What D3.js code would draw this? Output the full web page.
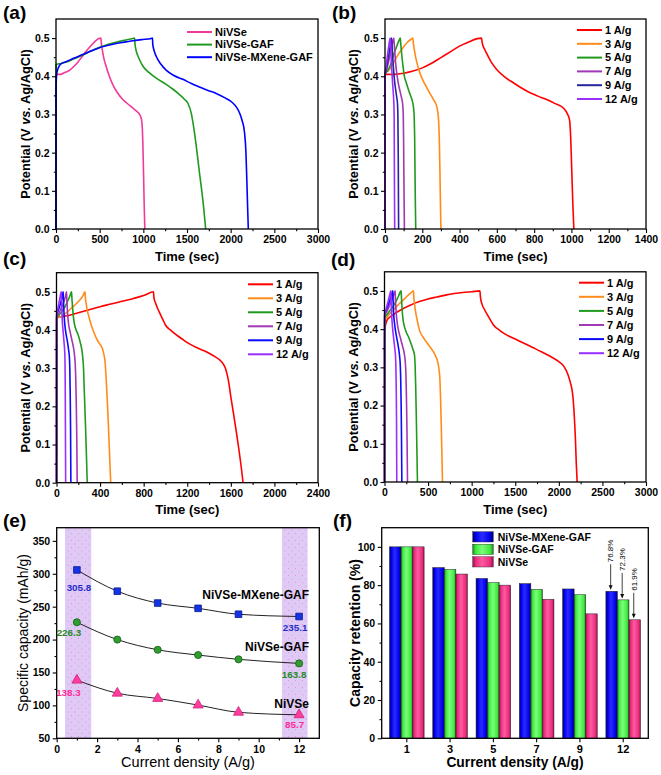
<!DOCTYPE html>
<html><head><meta charset="utf-8">
<script src="https://cdn.jsdelivr.net/npm/d3@7"></script>
<style>body{margin:0;background:#fff}svg{display:block;font-family:"Liberation Sans",Arial,Helvetica,sans-serif}</style>
</head><body><svg id="c" width="661" height="775"></svg>
<script>
// ---------------- DATA ----------------
// (a) GCD at 1 A/g, three electrodes  [time (s), potential (V)]
const gcdA_NiVSe = [[0,0],[1,0.405],[50,0.405],[100,0.41],[150,0.415],[200,0.425],[250,0.437],[300,0.452],[350,0.467],[400,0.48],[450,0.492],[490,0.499],[515,0.5],[518,0.49],[530,0.47],[550,0.445],[575,0.425],[600,0.407],[650,0.378],[700,0.358],[765,0.339],[820,0.328],[879,0.317],[930,0.307],[960,0.299],[978,0.288],[988,0.265],[995,0.22],[1003,0.14],[1010,0.06],[1017,0]];
const gcdA_GAF = [[0,0],[1,0.43],[20,0.432],[50,0.433],[100,0.436],[200,0.445],[300,0.455],[400,0.466],[500,0.476],[600,0.484],[700,0.49],[800,0.495],[880,0.499],[900,0.5],[903,0.488],[915,0.47],[935,0.455],[955,0.444],[1000,0.425],[1070,0.409],[1160,0.393],[1261,0.379],[1340,0.366],[1414,0.352],[1470,0.34],[1509,0.33],[1548,0.304],[1586,0.252],[1643,0.147],[1689,0.06],[1714,0]];
const gcdA_MX = [[0,0],[1,0.37],[8,0.405],[20,0.418],[40,0.428],[60,0.433],[115,0.438],[200,0.447],[306,0.457],[400,0.466],[497,0.475],[600,0.481],[688,0.486],[800,0.49],[879,0.493],[980,0.496],[1090,0.499],[1105,0.5],[1108,0.484],[1120,0.47],[1146,0.453],[1200,0.432],[1261,0.416],[1350,0.402],[1452,0.392],[1550,0.381],[1643,0.372],[1740,0.363],[1834,0.355],[1930,0.344],[2025,0.33],[2070,0.318],[2102,0.304],[2130,0.285],[2159,0.252],[2175,0.2],[2186,0.121],[2195,0.05],[2202,0]];

// (b) NiVSe at different current densities
const gcdB_1 = [[0,0],[1,0.405],[50,0.405],[100,0.408],[150,0.414],[200,0.422],[250,0.434],[300,0.449],[350,0.464],[400,0.479],[450,0.49],[490,0.498],[518,0.5],[521,0.488],[535,0.47],[545,0.46],[570,0.437],[599,0.418],[640,0.399],[688,0.383],[730,0.37],[778,0.357],[820,0.348],[867,0.339],[910,0.329],[957,0.317],[978,0.302],[990,0.285],[996,0.24],[1002,0.15],[1008,0.06],[1013,0]];
const gcdB_3 = [[0,0],[1,0.41],[20,0.415],[40,0.43],[60,0.448],[80,0.464],[100,0.477],[120,0.489],[140,0.497],[150,0.5],[152,0.488],[158,0.468],[165,0.449],[177,0.425],[190,0.405],[205,0.388],[220,0.374],[240,0.356],[260,0.339],[275,0.325],[282,0.31],[288,0.28],[292,0.22],[295,0.14],[298,0.05],[300,0]];
const gcdB_5 = [[0,0],[1,0.405],[15,0.415],[30,0.43],[45,0.455],[60,0.475],[72,0.49],[82,0.5],[84,0.488],[90,0.455],[97,0.425],[104,0.4],[115,0.382],[125,0.366],[135,0.352],[145,0.338],[152,0.322],[156,0.3],[159,0.24],[161,0.15],[163,0.06],[165,0]];
const gcdB_7 = [[0,0],[1,0.405],[10,0.42],[20,0.44],[30,0.465],[40,0.488],[47,0.5],[49,0.488],[53,0.46],[58,0.43],[64,0.405],[72,0.38],[80,0.362],[88,0.345],[94,0.33],[98,0.3],[100,0.22],[102,0.1],[104,0]];
const gcdB_9 = [[0,0],[1,0.405],[8,0.42],[16,0.445],[24,0.468],[31,0.49],[35,0.5],[37,0.488],[40,0.46],[44,0.43],[48,0.405],[53,0.38],[58,0.362],[63,0.345],[67,0.328],[69,0.3],[71,0.2],[72,0.1],[73,0]];
const gcdB_12 = [[0,0],[1,0.41],[6,0.425],[12,0.45],[18,0.472],[24,0.492],[28,0.5],[30,0.488],[32,0.46],[35,0.43],[38,0.405],[41,0.38],[44,0.36],[47,0.335],[49,0.3],[50,0.2],[51,0.08],[52,0]];

// (c) NiVSe-GAF
const gcdC_1 = [[0,0],[1,0.432],[100,0.437],[200,0.445],[300,0.453],[400,0.461],[500,0.468],[600,0.475],[700,0.482],[800,0.49],[890,0.5],[894,0.485],[910,0.47],[930,0.455],[950,0.443],[975,0.428],[1000,0.413],[1050,0.399],[1100,0.387],[1150,0.377],[1200,0.367],[1250,0.359],[1300,0.352],[1350,0.346],[1400,0.339],[1450,0.331],[1500,0.321],[1530,0.311],[1550,0.3],[1565,0.285],[1580,0.264],[1600,0.225],[1625,0.18],[1650,0.134],[1675,0.085],[1700,0.03],[1712,0]];
const gcdC_3 = [[0,0],[1,0.43],[40,0.435],[80,0.443],[120,0.453],[160,0.463],[200,0.474],[240,0.488],[262,0.5],[265,0.485],[272,0.47],[280,0.455],[300,0.432],[320,0.412],[340,0.396],[360,0.382],[390,0.366],[420,0.352],[436,0.335],[444,0.321],[454,0.282],[465,0.22],[475,0.16],[485,0.09],[493,0.03],[498,0]];
const gcdC_5 = [[0,0],[1,0.432],[20,0.438],[40,0.445],[60,0.453],[80,0.462],[100,0.474],[120,0.487],[138,0.5],[141,0.485],[147,0.46],[155,0.435],[165,0.415],[180,0.4],[199,0.387],[220,0.365],[239,0.334],[248,0.3],[255,0.24],[265,0.16],[274,0.08],[282,0]];
const gcdC_7 = [[0,0],[1,0.435],[20,0.443],[40,0.455],[60,0.468],[80,0.485],[92,0.5],[94,0.485],[98,0.46],[104,0.435],[112,0.413],[125,0.395],[140,0.375],[155,0.355],[165,0.335],[172,0.31],[177,0.27],[182,0.2],[186,0.12],[190,0]];
const gcdC_9 = [[0,0],[1,0.44],[15,0.45],[30,0.463],[45,0.478],[55,0.492],[61,0.5],[63,0.485],[67,0.455],[73,0.425],[80,0.405],[90,0.385],[100,0.37],[110,0.35],[118,0.33],[122,0.3],[126,0.23],[129,0.14],[132,0]];
const gcdC_12 = [[0,0],[1,0.44],[10,0.452],[20,0.467],[30,0.482],[40,0.496],[44,0.5],[46,0.485],[49,0.455],[53,0.425],[58,0.405],[64,0.385],[70,0.365],[75,0.345],[78,0.32],[80,0.26],[82,0.14],[84,0]];

// (d) NiVSe-MXene-GAF
const gcdD_1 = [[0,0],[1,0.38],[8,0.405],[20,0.418],[40,0.427],[70,0.433],[100,0.438],[200,0.452],[300,0.463],[400,0.472],[500,0.479],[600,0.484],[700,0.489],[800,0.493],[900,0.496],[1000,0.498],[1095,0.5],[1100,0.485],[1115,0.468],[1150,0.45],[1200,0.43],[1250,0.411],[1320,0.397],[1400,0.385],[1500,0.374],[1600,0.363],[1700,0.352],[1800,0.341],[1900,0.329],[2000,0.315],[2060,0.302],[2100,0.284],[2130,0.262],[2160,0.227],[2178,0.17],[2190,0.114],[2200,0.05],[2210,0]];
const gcdD_3 = [[0,0],[1,0.42],[30,0.432],[60,0.44],[100,0.45],[150,0.462],[200,0.473],[250,0.484],[300,0.494],[333,0.5],[336,0.485],[345,0.465],[360,0.441],[380,0.418],[400,0.398],[440,0.38],[480,0.367],[520,0.354],[560,0.341],[590,0.328],[610,0.315],[625,0.295],[635,0.271],[643,0.22],[650,0.157],[658,0.08],[665,0]];
const gcdD_5 = [[0,0],[1,0.43],[30,0.438],[60,0.448],[100,0.46],[130,0.472],[160,0.486],[191,0.5],[194,0.485],[200,0.46],[210,0.43],[225,0.41],[250,0.392],[275,0.38],[300,0.365],[325,0.348],[344,0.332],[352,0.3],[358,0.25],[365,0.17],[372,0.08],[378,0]];
const gcdD_7 = [[0,0],[1,0.435],[20,0.443],[40,0.452],[60,0.463],[80,0.474],[100,0.487],[122,0.5],[124,0.485],[130,0.458],[138,0.432],[150,0.41],[165,0.392],[185,0.375],[205,0.357],[225,0.338],[238,0.315],[246,0.28],[252,0.22],[258,0.13],[264,0]];
const gcdD_9 = [[0,0],[1,0.44],[20,0.45],[40,0.462],[60,0.475],[80,0.489],[95,0.5],[97,0.485],[102,0.455],[108,0.43],[118,0.41],[130,0.39],[145,0.372],[160,0.352],[172,0.332],[180,0.31],[186,0.27],[191,0.2],[195,0.12],[199,0]];
const gcdD_12 = [[0,0],[1,0.44],[15,0.45],[30,0.463],[45,0.476],[60,0.49],[73,0.5],[75,0.485],[79,0.455],[84,0.43],[90,0.41],[98,0.39],[108,0.37],[118,0.35],[126,0.33],[131,0.3],[135,0.24],[138,0.16],[141,0]];

// (e) specific capacity vs current density
const currents = [1, 3, 5, 7, 9, 12];
const capMXene = [305.8, 273.5, 255.5, 247.5, 238.5, 235.1];
const capGAF = [226.3, 200, 184.5, 176.5, 170, 163.8];
const capNiVSe = [138.3, 118.5, 110.5, 100.5, 89.5, 85.7];
const shadeRanges = [[0.41, 1.71], [11.15, 12.42]];

// (f) capacity retention (%)
const retMXene = [100, 89.2, 83.5, 80.8, 78, 76.8];
const retGAF = [100, 88.2, 81.3, 77.8, 75, 72.3];
const retNiVSe = [100, 85.8, 80, 72.6, 65, 61.9];

const rateLabels = ["1 A/g", "3 A/g", "5 A/g", "7 A/g", "9 A/g", "12 A/g"];
const materialNames = ["NiVSe", "NiVSe-GAF", "NiVSe-MXene-GAF"];

// ---------------- DRAWING ----------------
const svg = d3.select('#c');
svg.append('rect').attr('width', 661).attr('height', 775).attr('fill', '#fff');
const defs = svg.append('defs');

function styleTicks(sel, size, weight) {
  sel.select('.domain').remove();
  sel.selectAll('line').attr('stroke', '#000').attr('stroke-width', 1.1);
  sel.selectAll('text').attr('font-size', size).attr('font-weight', weight)
     .attr('fill', '#000').attr('font-family', '"Liberation Sans",Arial,sans-serif');
}

function drawAxes(g, x, y, box, xMaj, xMin, yMaj, yMin, xFmt, yFmt, w) {
  const [x0, x1, yb, yt] = box;
  const gx = g.append('g').attr('transform', `translate(0,${yb})`)
    .call(d3.axisBottom(x).tickValues(xMaj).tickSize(4).tickSizeOuter(0).tickPadding(3).tickFormat(xFmt));
  styleTicks(gx, 10.5, w);
  if (xMin.length) {
    const gxm = g.append('g').attr('transform', `translate(0,${yb})`)
      .call(d3.axisBottom(x).tickValues(xMin).tickSize(2.2).tickSizeOuter(0).tickFormat(''));
    styleTicks(gxm, 10, w);
  }
  const gy = g.append('g').attr('transform', `translate(${x0},0)`)
    .call(d3.axisLeft(y).tickValues(yMaj).tickSize(4).tickSizeOuter(0).tickPadding(2.5).tickFormat(yFmt));
  styleTicks(gy, 10.5, w);
  const gym = g.append('g').attr('transform', `translate(${x0},0)`)
    .call(d3.axisLeft(y).tickValues(yMin).tickSize(2.2).tickSizeOuter(0).tickFormat(''));
  styleTicks(gym, 10, w);
  g.append('rect').attr('x', x0).attr('y', yt).attr('width', x1 - x0).attr('height', yb - yt)
    .attr('fill', 'none').attr('stroke', '#000').attr('stroke-width', 1.3);
}

function panelLabel(txt, x, y) {
  svg.append('text').attr('x', x).attr('y', y).text(txt)
    .attr('font-size', 19).attr('font-weight', 'bold');
}

function yTitleGCD(cx, cy) {
  const t = svg.append('text').attr('transform', `translate(${cx},${cy}) rotate(-90)`)
    .attr('text-anchor', 'middle').attr('dy', '0.35em').attr('font-size', 12.8).attr('font-weight', 'bold');
  t.append('tspan').text('Potential (V ');
  t.append('tspan').attr('font-style', 'italic').text('vs.');
  t.append('tspan').text(' Ag/AgCl)');
}

function gcdPanel(cfg) {
  const [x0, x1, yb, yt] = cfg.box;
  const x = d3.scaleLinear().domain(cfg.xd).range([x0, x1]);
  const y = d3.scaleLinear().domain([0, 0.55]).range([yb, yt]);
  const g = svg.append('g');
  const cid = 'clip' + cfg.id;
  defs.append('clipPath').attr('id', cid).append('rect')
    .attr('x', x0 - 1).attr('y', yt).attr('width', x1 - x0 + 1).attr('height', yb - yt + 1);
  const line = d3.line().x(d => x(d[0])).y(d => y(d[1])).curve(d3.curveMonotoneX);
  cfg.series.forEach(s => {
    g.append('path').attr('d', line(s.data)).attr('fill', 'none')
      .attr('stroke', s.color).attr('stroke-width', 1.6).attr('clip-path', `url(#${cid})`);
  });
  const xMaj = d3.range(cfg.xd[0], cfg.xd[1] + 1e-6, cfg.xStep);
  const xMin = d3.range(cfg.xd[0], cfg.xd[1] + 1e-6, cfg.xStep / 2).filter(v => v % cfg.xStep !== 0);
  const yMaj = d3.range(0, 0.51, 0.1);
  const yMin = d3.range(0.05, 0.55, 0.1);
  drawAxes(g, x, y, cfg.box, xMaj, xMin, yMaj, yMin, d3.format('d'), d3.format('.1f'), 'bold');
  // legend
  const lg = g.append('g');
  cfg.series.forEach((s, i) => {
    const ly = cfg.leg[1] + i * cfg.leg[2];
    lg.append('line').attr('x1', cfg.leg[0]).attr('x2', cfg.leg[0] + 25).attr('y1', ly).attr('y2', ly)
      .attr('stroke', s.color).attr('stroke-width', 2);
    lg.append('text').attr('x', cfg.leg[0] + 28).attr('y', ly).attr('dy', '0.35em')
      .attr('font-size', 11).attr('font-weight', 'bold').text(s.name);
  });
  // titles
  yTitleGCD(cfg.yTitleX, (yb + yt) / 2);
  svg.append('text').attr('x', (x0 + x1) / 2).attr('y', cfg.xTitleY).attr('text-anchor', 'middle')
    .attr('font-size', 13).attr('font-weight', 'bold').text('Time (sec)');
}

const rateColorsB = ['#ff0000', '#ff8c1a', '#1f9a1f', '#a238b4', '#25259e', '#9a2eff'];
const rateColorsCD = ['#ff0000', '#ff8c1a', '#1f9a1f', '#a238b4', '#0a0aff', '#9a2eff'];

gcdPanel({id: 'a', box: [56, 318, 229, 19], xd: [0, 3000], xStep: 500,
  series: [
    {name: materialNames[0], color: '#f2399a', data: gcdA_NiVSe},
    {name: materialNames[1], color: '#1f9a1f', data: gcdA_GAF},
    {name: materialNames[2], color: '#0000ff', data: gcdA_MX}],
  leg: [187, 32, 12.6], yTitleX: 25.5, xTitleY: 261});

gcdPanel({id: 'b', box: [385, 646, 229, 19], xd: [0, 1400], xStep: 200,
  series: [gcdB_1, gcdB_3, gcdB_5, gcdB_7, gcdB_9, gcdB_12].map((d, i) => ({name: rateLabels[i], color: rateColorsB[i], data: d})),
  leg: [577, 30, 13.8], yTitleX: 354, xTitleY: 261});

gcdPanel({id: 'c', box: [56.5, 318, 482.7, 272.7], xd: [0, 2400], xStep: 400,
  series: [gcdC_1, gcdC_3, gcdC_5, gcdC_7, gcdC_9, gcdC_12].map((d, i) => ({name: rateLabels[i], color: rateColorsCD[i], data: d})),
  leg: [248, 284.3, 14], yTitleX: 25.5, xTitleY: 514});

gcdPanel({id: 'd', box: [384.5, 646, 482, 271.8], xd: [0, 3000], xStep: 500,
  series: [gcdD_1, gcdD_3, gcdD_5, gcdD_7, gcdD_9, gcdD_12].map((d, i) => ({name: rateLabels[i], color: rateColorsCD[i], data: d})),
  leg: [579, 282.7, 14.1], yTitleX: 354, xTitleY: 514});

panelLabel('(a)', 3, 19);
panelLabel('(b)', 332, 19);
panelLabel('(c)', 3, 265);
panelLabel('(d)', 331, 266);
panelLabel('(e)', 3, 527);
panelLabel('(f)', 333, 527);

// ---------- (e) ----------
(function () {
  const box = [56.7, 319.3, 738.3, 527.7];
  const x = d3.scaleLinear().domain([0, 13]).range([box[0], box[1]]);
  const y = d3.scaleLinear().domain([50, 370]).range([box[2], box[3]]);
  const g = svg.append('g');
  const pat = defs.append('pattern').attr('id', 'dots').attr('width', 7).attr('height', 7)
    .attr('patternUnits', 'userSpaceOnUse');
  pat.append('rect').attr('width', 7).attr('height', 7).attr('fill', '#dfcaf6');
  pat.append('circle').attr('cx', 1.5).attr('cy', 1.5).attr('r', 0.55).attr('fill', '#e38ccc');
  pat.append('circle').attr('cx', 5).attr('cy', 5).attr('r', 0.55).attr('fill', '#e38ccc');
  shadeRanges.forEach(r => g.append('rect').attr('x', x(r[0])).attr('y', box[3])
    .attr('width', x(r[1]) - x(r[0])).attr('height', box[2] - box[3]).attr('fill', 'url(#dots)'));

  const line = d3.line().x((d, i) => x(currents[i])).y(d => y(d)).curve(d3.curveMonotoneX);
  const sets = [
    {v: capMXene, fill: '#1533e6', stroke: '#0a1a90', shape: d3.symbolSquare, size: 44, lc: '#1f2fc8'},
    {v: capGAF, fill: '#2e9e2e', stroke: '#175a17', shape: d3.symbolCircle, size: 40, lc: '#238a23'},
    {v: capNiVSe, fill: '#ff3d9e', stroke: '#d0207a', shape: d3.symbolTriangle, size: 44, lc: '#ff2b94'}];
  sets.forEach(s => g.append('path').attr('d', line(s.v)).attr('fill', 'none').attr('stroke', '#222').attr('stroke-width', 1));
  sets.forEach(s => {
    s.v.forEach((v, i) => g.append('path').attr('d', d3.symbol().type(s.shape).size(s.size)())
      .attr('transform', `translate(${x(currents[i])},${y(v)})`)
      .attr('fill', s.fill).attr('stroke', s.stroke).attr('stroke-width', 0.8));
  });
  const valOffsets = [[[2, 18], [-4, 11]], [[-8, 10], [-5, 11.5]], [[-8.5, 12], [-4.5, 10]]];
  sets.forEach((s, k) => {
    [0, s.v.length - 1].forEach((i, j) => {
      g.append('text').attr('x', x(currents[i]) + valOffsets[k][j][0]).attr('y', y(s.v[i]) + valOffsets[k][j][1])
        .attr('dy', '0.35em').attr('text-anchor', 'middle').attr('font-size', 9.8).attr('font-weight', 'bold')
        .attr('fill', s.lc).text(d3.format('.1f')(s.v[i]));
    });
  });
  [[materialNames[2], 598.5], [materialNames[1], 651], [materialNames[0], 708]].forEach(d =>
    g.append('text').attr('x', 309).attr('y', d[1]).attr('text-anchor', 'end')
      .attr('font-size', 12).attr('font-weight', 'bold').text(d[0]));
  drawAxes(g, x, y, box, d3.range(0, 13, 2), d3.range(1, 13, 2), d3.range(50, 351, 50), d3.range(75, 351, 50),
    d3.format('d'), d3.format('d'), 'bold');
  svg.append('text').attr('transform', `translate(23,${(box[2] + box[3]) / 2}) rotate(-90)`)
    .attr('text-anchor', 'middle').attr('dy', '0.35em').attr('font-size', 14).text('Specific capacity (mAh/g)');
  svg.append('text').attr('x', (box[0] + box[1]) / 2).attr('y', 767).attr('text-anchor', 'middle')
    .attr('font-size', 14.5).text('Current density (A/g)');
})();

// ---------- (f) ----------
(function () {
  const box = [381.7, 648.3, 738.3, 527.7];
  const x = d3.scaleBand().domain(currents.map(String)).range([box[0], box[1]]).paddingInner(0.2).paddingOuter(0.18);
  const xs = d3.scaleBand().domain([0, 1, 2]).range([0, x.bandwidth()]);
  const y = d3.scaleLinear().domain([0, 110]).range([box[2], box[3]]);
  const g = svg.append('g');
  const grads = [
    {id: 'gb', stops: ['#00006e', '#0000e8', '#2a2aff', '#0000e6', '#00006e']},
    {id: 'gg', stops: ['#158a15', '#3ee83e', '#7aff7a', '#40e840', '#158a15']},
    {id: 'gp', stops: ['#9a0c4c', '#e82c7c', '#ff5aa2', '#e82c7c', '#9a0c4c']}];
  grads.forEach(gr => {
    const lg = defs.append('linearGradient').attr('id', gr.id).attr('x1', 0).attr('x2', 1).attr('y1', 0).attr('y2', 0);
    [0, 0.15, 0.45, 0.85, 1].forEach((o, i) => lg.append('stop').attr('offset', o).attr('stop-color', gr.stops[i]));
  });
  const series = [
    {name: materialNames[2], v: retMXene, fill: 'url(#gb)'},
    {name: materialNames[1], v: retGAF, fill: 'url(#gg)'},
    {name: materialNames[0], v: retNiVSe, fill: 'url(#gp)'}];
  series.forEach((s, k) => {
    s.v.forEach((v, i) => g.append('rect')
      .attr('x', x(String(currents[i])) + xs(k)).attr('y', y(v))
      .attr('width', xs.bandwidth()).attr('height', y(0) - y(v))
      .attr('fill', s.fill).attr('stroke', '#222').attr('stroke-width', 0.5));
  });
  // annotations on the last group
  series.forEach((s, k) => {
    const i = s.v.length - 1;
    const cx = x(String(currents[i])) + xs(k) + xs.bandwidth() / 2 - 1;
    const top = y(s.v[i]);
    g.append('line').attr('x1', cx).attr('x2', cx).attr('y1', top - 27).attr('y2', top - 4)
      .attr('stroke', '#111').attr('stroke-width', 0.8);
    g.append('path').attr('d', `M${cx - 2},${top - 6} L${cx + 2},${top - 6} L${cx},${top - 1.5} Z`).attr('fill', '#111');
    g.append('text').attr('transform', `translate(${cx},${top - 29}) rotate(-90)`)
      .attr('dy', '0.35em').attr('font-size', 8).text(d3.format('.1f')(s.v[i]) + '%');
  });
  // legend
  series.forEach((s, k) => {
    const ly = 531.7 + k * 12.5;
    g.append('rect').attr('x', 472.7).attr('y', ly).attr('width', 20.6).attr('height', 10.3)
      .attr('fill', s.fill).attr('stroke', '#222').attr('stroke-width', 0.4);
    g.append('text').attr('x', 497.7).attr('y', ly + 5.2).attr('dy', '0.35em')
      .attr('font-size', 10.5).attr('font-weight', 'bold').text(s.name);
  });
  const gx = g.append('g').attr('transform', `translate(0,${box[2]})`)
    .call(d3.axisBottom(x).tickSize(4).tickSizeOuter(0).tickPadding(3));
  styleTicks(gx, 11, 'bold');
  const gy = g.append('g').attr('transform', `translate(${box[0]},0)`)
    .call(d3.axisLeft(y).tickValues(d3.range(0, 101, 20)).tickSize(4).tickSizeOuter(0).tickPadding(2.5));
  styleTicks(gy, 10.5, 'bold');
  const gym = g.append('g').attr('transform', `translate(${box[0]},0)`)
    .call(d3.axisLeft(y).tickValues(d3.range(10, 101, 20)).tickSize(2.2).tickSizeOuter(0).tickFormat(''));
  styleTicks(gym, 10, 'bold');
  g.append('rect').attr('x', box[0]).attr('y', box[3]).attr('width', box[1] - box[0]).attr('height', box[2] - box[3])
    .attr('fill', 'none').attr('stroke', '#000').attr('stroke-width', 1.3);
  svg.append('text').attr('transform', `translate(355,${(box[2] + box[3]) / 2}) rotate(-90)`)
    .attr('text-anchor', 'middle').attr('dy', '0.35em').attr('font-size', 14).attr('font-weight', 'bold')
    .text('Capacity retention (%)');
  svg.append('text').attr('x', (box[0] + box[1]) / 2).attr('y', 767).attr('text-anchor', 'middle')
    .attr('font-size', 13.8).attr('font-weight', 'bold').text('Current density (A/g)');
})();
</script></body></html>
